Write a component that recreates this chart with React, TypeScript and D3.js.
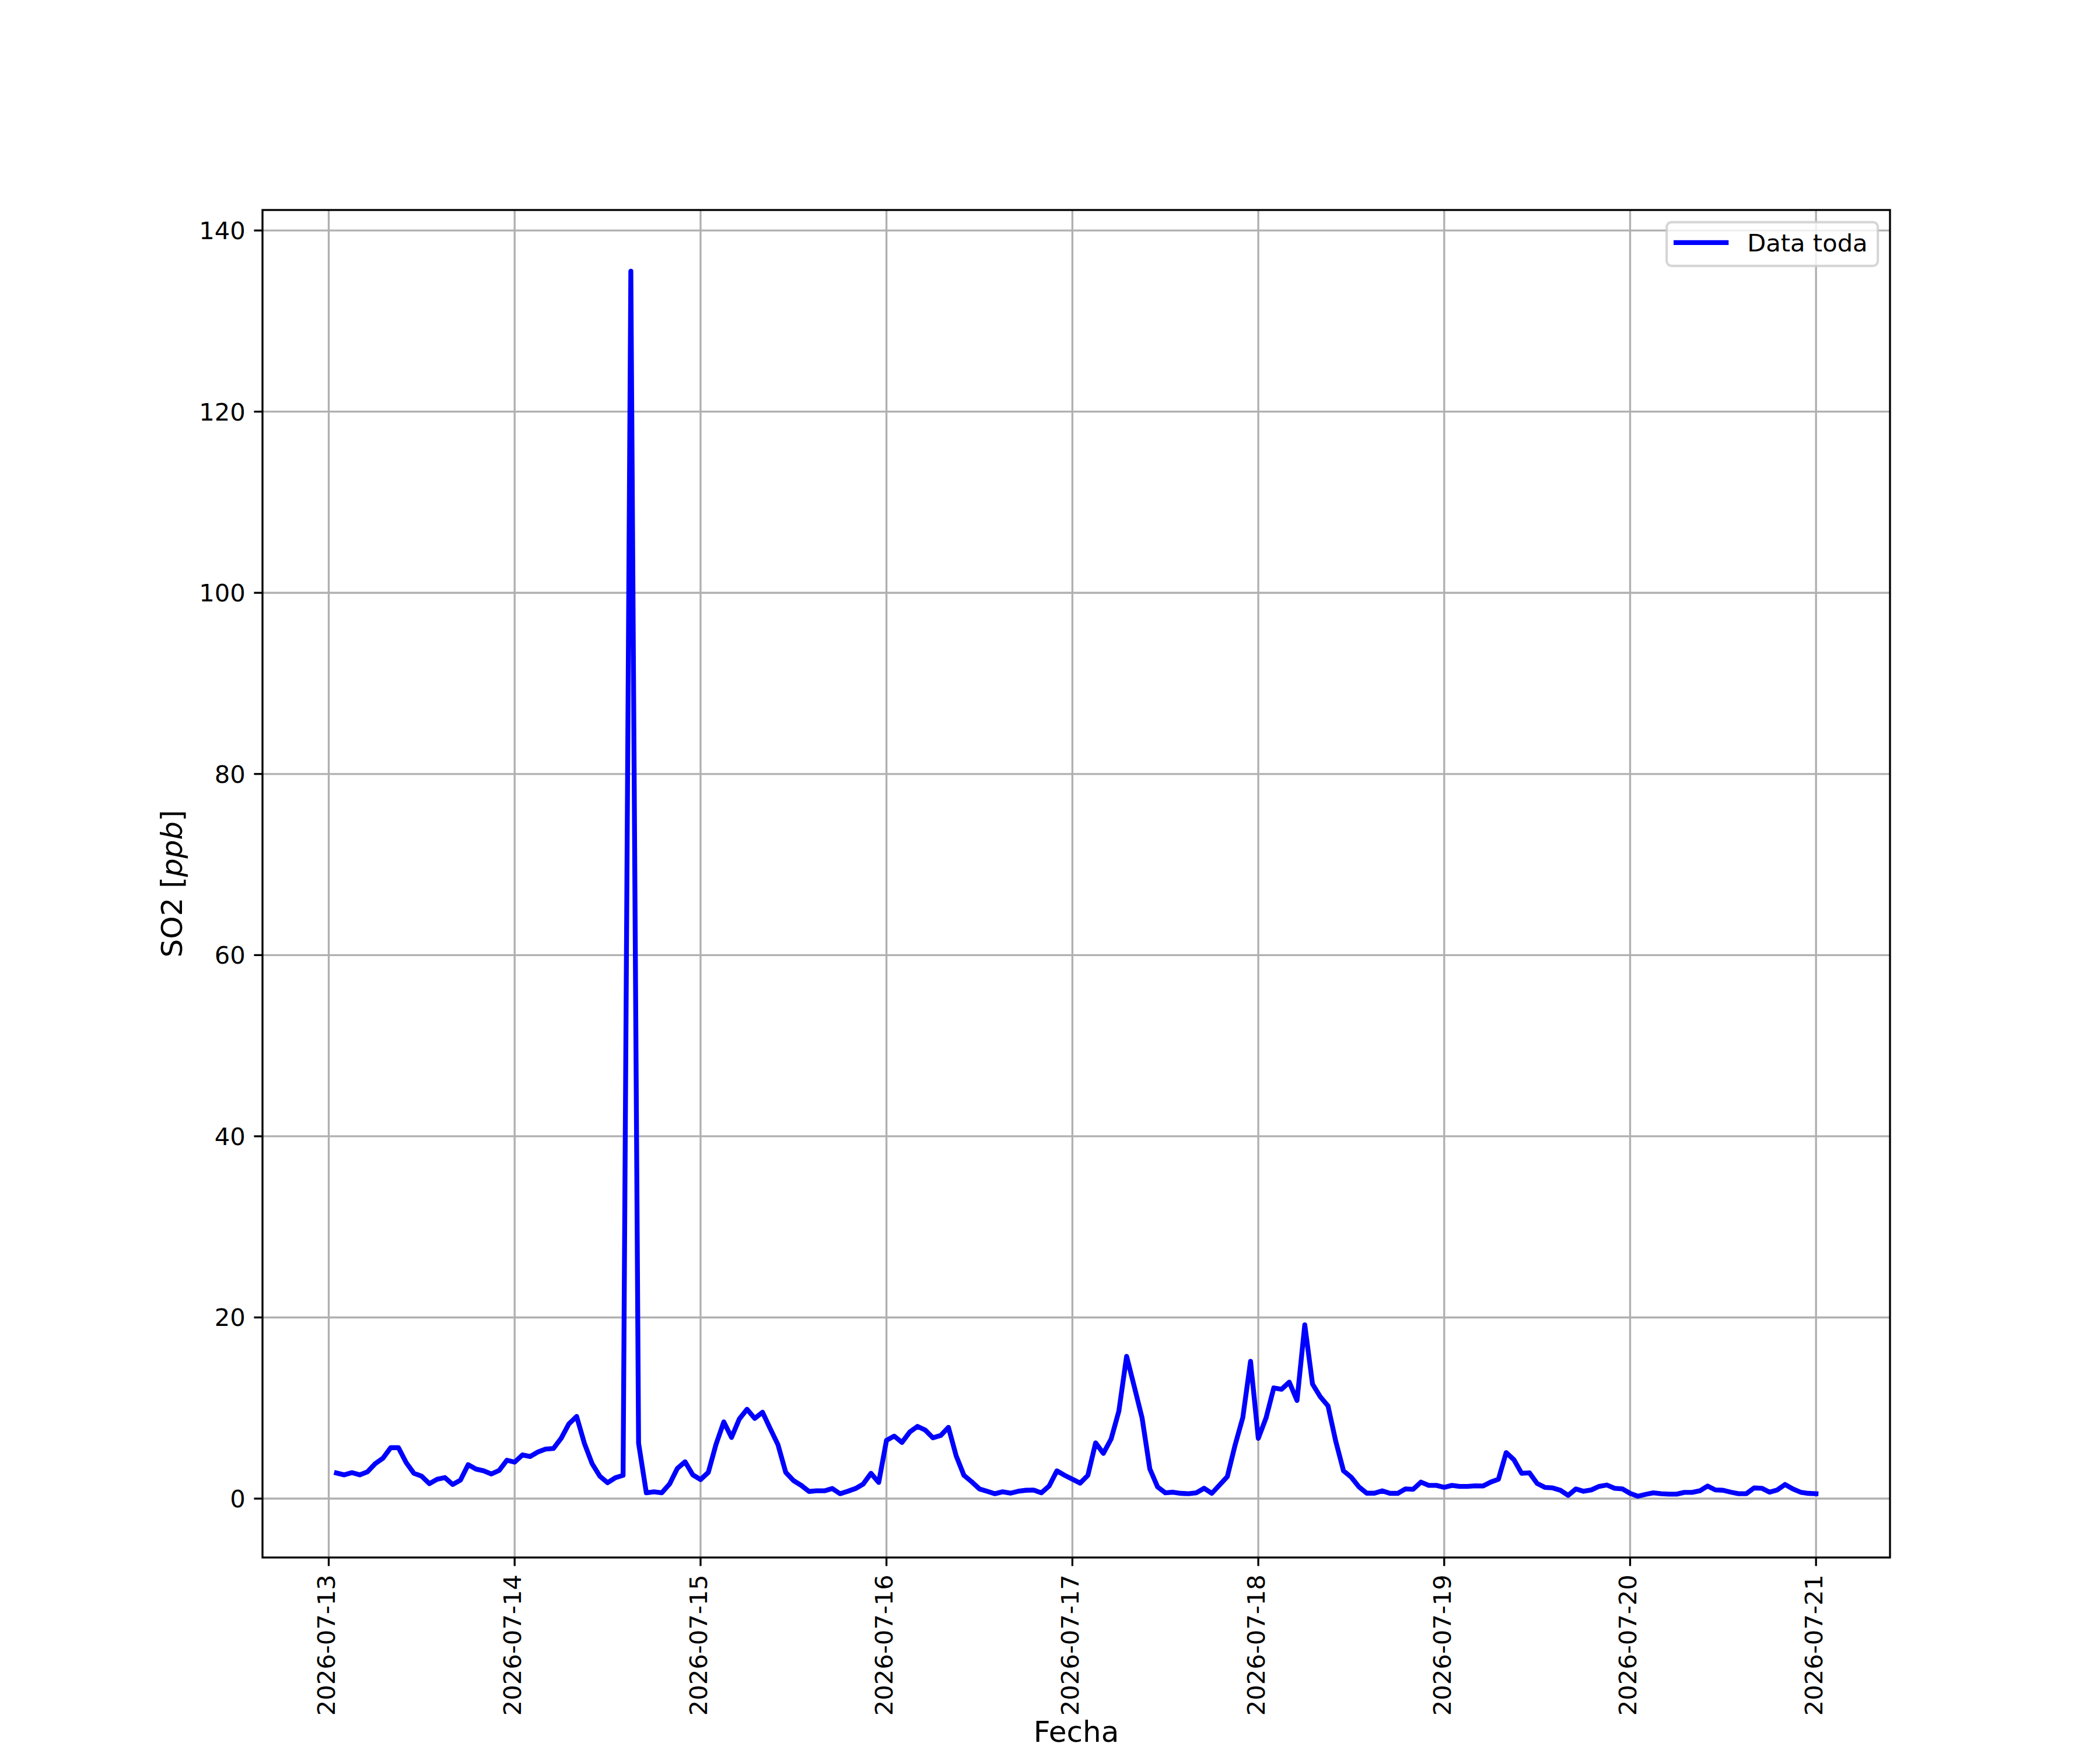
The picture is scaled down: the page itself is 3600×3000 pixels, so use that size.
import * as d3 from "d3";
import React, { useEffect, useRef } from "react";

// Hourly SO2 readings (ppb), one array per 24h window starting at 01:00 UTC
const startTime = new Date(Date.UTC(2026, 6, 13, 1));

const so2Jul13 = [2.83, 2.62, 2.87, 2.62, 2.96, 3.86, 4.46, 5.62, 5.62, 3.97, 2.79, 2.47, 1.65, 2.14, 2.32, 1.56, 2.04, 3.75, 3.26, 3.07, 2.72, 3.11, 4.24, 4.03];
const so2Jul14 = [4.82, 4.65, 5.14, 5.47, 5.53, 6.65, 8.25, 9.07, 6.11, 3.86, 2.47, 1.75, 2.3, 2.57, 135.5, 6.11, 0.64, 0.75, 0.64, 1.61, 3.32, 4.07, 2.62, 2.1];
const so2Jul15 = [2.89, 6.0, 8.47, 6.75, 8.79, 9.86, 8.85, 9.54, 7.72, 5.94, 2.89, 1.99, 1.46, 0.79, 0.86, 0.86, 1.11, 0.54, 0.81, 1.11, 1.61, 2.79, 1.78, 6.43];
const so2Jul16 = [6.9, 6.2, 7.35, 7.97, 7.57, 6.71, 6.97, 7.87, 4.72, 2.57, 1.86, 1.07, 0.81, 0.54, 0.75, 0.6, 0.81, 0.92, 0.94, 0.64, 1.39, 3.07, 2.57, 2.14];
const so2Jul17 = [1.71, 2.57, 6.15, 4.99, 6.58, 9.65, 15.71, 12.33, 8.9, 3.28, 1.29, 0.64, 0.71, 0.58, 0.54, 0.64, 1.14, 0.58, 1.5, 2.42, 5.89, 8.94, 15.16, 6.65];
const so2Jul18 = [8.9, 12.22, 12.07, 12.86, 10.83, 19.19, 12.65, 11.25, 10.23, 6.32, 3.07, 2.36, 1.29, 0.6, 0.6, 0.86, 0.58, 0.58, 1.07, 1.03, 1.82, 1.46, 1.46, 1.24];
const so2Jul19 = [1.46, 1.35, 1.35, 1.41, 1.39, 1.82, 2.14, 5.08, 4.29, 2.79, 2.85, 1.67, 1.24, 1.18, 0.92, 0.36, 1.07, 0.81, 0.96, 1.35, 1.5, 1.14, 1.07, 0.58];
const so2Jul20 = [0.26, 0.47, 0.64, 0.54, 0.49, 0.49, 0.69, 0.69, 0.86, 1.39, 0.96, 0.92, 0.71, 0.54, 0.54, 1.18, 1.14, 0.71, 0.96, 1.56, 1.07, 0.71, 0.58, 0.54];

const so2Values = [
  ...so2Jul13, ...so2Jul14, ...so2Jul15, ...so2Jul16,
  ...so2Jul17, ...so2Jul18, ...so2Jul19, ...so2Jul20,
];

const dayTicks = [
  "2026-07-13", "2026-07-14", "2026-07-15", "2026-07-16", "2026-07-17",
  "2026-07-18", "2026-07-19", "2026-07-20", "2026-07-21",
];
const yTicks = [0, 20, 40, 60, 80, 100, 120, 140];
const seriesLabel = "Data toda";

type Point = [Date, number];

const App: React.FC = () => {
  const ref = useRef<SVGSVGElement | null>(null);

  useEffect(() => {
    if (!ref.current) return;
    d3.select(ref.current).selectAll("*").remove();

    const width = 3600;
    const height = 3000;
    const margin = { top: 360, right: 360, bottom: 330, left: 450 };
    const pt = 300 / 72; // figure rendered at 300 dpi
    const font = "DejaVu Sans, sans-serif";
    const tickFont = 10 * pt;
    const labelFont = 12 * pt;
    const tickLen = 3.5 * pt;
    const tickPad = 3.5 * pt;

    const data: Point[] = so2Values.map((v, i) => [d3.utcHour.offset(startTime, i), v]);

    const svg = d3.select(ref.current).attr("width", width).attr("height", height);

    // matplotlib-style 5% margins on both axes
    const [t0, t1] = d3.extent(data, (d) => d[0]) as [Date, Date];
    const tPad = (t1.getTime() - t0.getTime()) * 0.05;
    const x = d3
      .scaleUtc()
      .domain([new Date(t0.getTime() - tPad), new Date(t1.getTime() + tPad)])
      .range([margin.left, width - margin.right]);

    const [v0, v1] = d3.extent(data, (d) => d[1]) as [number, number];
    const vPad = (v1 - v0) * 0.05;
    const y = d3
      .scaleLinear()
      .domain([v0 - vPad, v1 + vPad])
      .range([height - margin.bottom, margin.top]);

    const parseDay = d3.utcParse("%Y-%m-%d");
    const xTickDates = dayTicks.map((s) => parseDay(s) as Date);
    const bottom = height - margin.bottom;
    const left = margin.left;

    // Grid
    const grid = svg.append("g").attr("stroke", "#b0b0b0").attr("stroke-width", 0.8 * pt);
    grid
      .selectAll("line.gx")
      .data(xTickDates)
      .join("line")
      .attr("x1", (d) => x(d))
      .attr("x2", (d) => x(d))
      .attr("y1", margin.top)
      .attr("y2", bottom);
    grid
      .selectAll("line.gy")
      .data(yTicks)
      .join("line")
      .attr("x1", left)
      .attr("x2", width - margin.right)
      .attr("y1", (d) => y(d))
      .attr("y2", (d) => y(d));

    // Series line
    const line = d3
      .line<Point>()
      .x((d) => x(d[0]))
      .y((d) => y(d[1]));

    svg
      .append("path")
      .datum(data)
      .attr("fill", "none")
      .attr("stroke", "#0000ff")
      .attr("stroke-width", 2 * pt)
      .attr("stroke-linejoin", "round")
      .attr("stroke-linecap", "square")
      .attr("d", line);

    // Spines
    svg
      .append("rect")
      .attr("x", left)
      .attr("y", margin.top)
      .attr("width", width - margin.right - left)
      .attr("height", bottom - margin.top)
      .attr("fill", "none")
      .attr("stroke", "black")
      .attr("stroke-width", 0.8 * pt);

    // X ticks
    const xg = svg.append("g");
    xg.selectAll("line")
      .data(xTickDates)
      .join("line")
      .attr("x1", (d) => x(d))
      .attr("x2", (d) => x(d))
      .attr("y1", bottom)
      .attr("y2", bottom + tickLen)
      .attr("stroke", "black")
      .attr("stroke-width", 0.8 * pt);
    xg.selectAll("text")
      .data(xTickDates)
      .join("text")
      .attr("transform", (d) => `translate(${x(d)},${bottom + tickLen + tickPad}) rotate(-90)`)
      .attr("text-anchor", "end")
      .attr("dy", "0.26em")
      .attr("font-family", font)
      .attr("font-size", tickFont)
      .text((d) => d3.utcFormat("%Y-%m-%d")(d));

    // Y ticks
    const yg = svg.append("g");
    yg.selectAll("line")
      .data(yTicks)
      .join("line")
      .attr("x1", left - tickLen)
      .attr("x2", left)
      .attr("y1", (d) => y(d))
      .attr("y2", (d) => y(d))
      .attr("stroke", "black")
      .attr("stroke-width", 0.8 * pt);
    yg.selectAll("text")
      .data(yTicks)
      .join("text")
      .attr("x", left - tickLen - tickPad)
      .attr("y", (d) => y(d))
      .attr("dy", "0.36em")
      .attr("text-anchor", "end")
      .attr("font-family", font)
      .attr("font-size", tickFont)
      .text((d) => String(d));

    // Axis labels
    svg
      .append("text")
      .attr("x", (left + width - margin.right) / 2)
      .attr("y", 2986)
      .attr("text-anchor", "middle")
      .attr("font-family", font)
      .attr("font-size", labelFont)
      .text("Fecha");

    const ylab = svg
      .append("text")
      .attr("transform", `translate(312,${(margin.top + bottom) / 2}) rotate(-90)`)
      .attr("text-anchor", "middle")
      .attr("font-family", font)
      .attr("font-size", labelFont);
    ylab.append("tspan").text("SO2 [");
    ylab.append("tspan").attr("font-style", "italic").text("ppb");
    ylab.append("tspan").text("]");

    // Legend (upper right)
    const lx = width - margin.right - 0.5 * tickFont;
    const ly = margin.top + 0.5 * tickFont;
    const lw = 362;
    const lh = 75;
    const legend = svg.append("g");
    legend
      .append("rect")
      .attr("x", lx - lw)
      .attr("y", ly)
      .attr("width", lw)
      .attr("height", lh)
      .attr("rx", 0.2 * tickFont)
      .attr("fill", "white")
      .attr("fill-opacity", 0.8)
      .attr("stroke", "#cccccc")
      .attr("stroke-opacity", 0.8)
      .attr("stroke-width", 1 * pt);
    legend
      .append("line")
      .attr("x1", lx - lw + 16)
      .attr("x2", lx - lw + 102)
      .attr("y1", ly + 35)
      .attr("y2", ly + 35)
      .attr("stroke", "#0000ff")
      .attr("stroke-width", 2 * pt)
      .attr("stroke-linecap", "square");
    legend
      .append("text")
      .attr("x", lx - lw + 138)
      .attr("y", ly + 50)
      .attr("font-family", font)
      .attr("font-size", tickFont)
      .text(seriesLabel);
  }, []);

  return (
    <svg
      ref={ref}
      style={{ position: "absolute", left: 0, top: 0, background: "white" }}
    ></svg>
  );
};

export default App;
